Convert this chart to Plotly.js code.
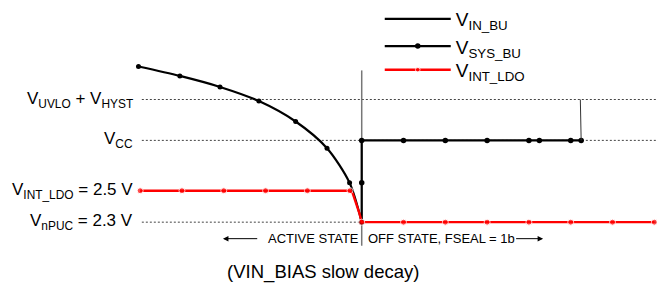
<!DOCTYPE html>
<html><head><meta charset="utf-8">
<script src="https://cdn.plot.ly/plotly-3.0.1.min.js"></script>
<style>html,body{margin:0;padding:0;background:#fff}</style>
</head><body><div id="chart" style="width:657px;height:286px"></div>
<script>
// ---- data (time in arbitrary units, 0 = switch to OFF state; voltage in V) ----
const levelLabels = ['V<sub>UVLO</sub> + V<sub>HYST</sub>', 'V<sub>CC</sub>', 'V<sub>INT_LDO</sub> = 2.5 V', 'V<sub>nPUC</sub> = 2.3 V'];
const levelValues = [3.08, 2.82, 2.5, 2.3];
const levelDotted = [true, true, false, true];

// V_IN_BU slow decay (active state)
const vinT = [-5.34, -4.35, -3.39, -2.46, -1.58, -0.83, -0.29, 0];
const vinV = [3.29, 3.23, 3.16, 3.07, 2.94, 2.77, 2.55, 2.3];

// V_SYS_BU
const vsysT = [0, 0, 0, 1, 2, 3, 4, 4.25, 5, 5.25];
const vsysV = [2.3, 2.55, 2.82, 2.82, 2.82, 2.82, 2.82, 2.82, 2.82, 2.82];
const vsysJumpT = [5.25, 5.23];
const vsysJumpV = [2.82, 3.08];

// V_INT_LDO
const ldoT = [-5.3, -4.3, -3.3, -2.3, -1.3, -0.28, -0.215, -0.16, -0.105, -0.057, 0, 1, 2, 3, 4, 5, 6, 7];
const ldoV = [2.5, 2.5, 2.5, 2.5, 2.5, 2.5, 2.483, 2.442, 2.4, 2.358, 2.3, 2.3, 2.3, 2.3, 2.3, 2.3, 2.3, 2.3];
const ldoBendIdx = [6, 7, 8, 9];

const switchT = 0;
const legendNames = ['V<sub>IN_BU</sub>', 'V<sub>SYS_BU</sub>', 'V<sub>INT_LDO</sub>'];
const stateLabels = ['ACTIVE STATE', 'OFF STATE, FSEAL = 1b'];
const chartTitle = '(VIN_BIAS slow decay)';

// ---- drawing ----
const FONT = 'Liberation Sans, Arial, Helvetica, sans-serif';
const traces = [
  {x: vinT, y: vinV, mode: 'lines', name: legendNames[0], legend: 'legend',
   line: {color: '#000', width: 2.2, shape: 'spline', smoothing: 0.8}},
  {x: vinT.slice(0, -1), y: vinV.slice(0, -1), mode: 'markers', showlegend: false,
   marker: {color: '#000', size: 5}},
  {x: vsysT, y: vsysV, mode: 'lines+markers', name: legendNames[1], legend: 'legend2',
   line: {color: '#000', width: 2.2}, marker: {color: '#000', size: 5.5}},
  {x: vsysJumpT, y: vsysJumpV, mode: 'lines', showlegend: false,
   line: {color: '#333', width: 1}},
  {x: ldoT, y: ldoV, mode: 'lines+markers', name: legendNames[2], legend: 'legend3',
   line: {color: '#ff0000', width: 2.4},
   marker: {color: '#ff0000', size: ldoT.map((t, i) => ldoBendIdx.includes(i) ? 0 : 6)}}
];

const shapes = [];
levelValues.forEach((v, i) => {
  if (levelDotted[i]) shapes.push({type: 'line', layer: 'below', xref: 'x', yref: 'y',
    x0: -5.26, x1: 8, y0: v, y1: v, line: {color: '#444', width: 1, dash: '2px,2px'}});
});
shapes.push({type: 'line', layer: 'below', xref: 'x', yref: 'y', x0: switchT, x1: switchT,
  y0: 2.15, y1: 3.265, line: {color: '#777', width: 1.5}});

const annotations = levelValues.map((v, i) => ({
  x: -5.42, y: v, xref: 'x', yref: 'y', text: levelLabels[i], showarrow: false,
  xanchor: 'right', yanchor: 'middle', font: {family: FONT, size: 17, color: '#000'}
}));
const arrowY = 2.195;
// state labels, each with its arrow (arrow tip at x, label centred at ax)
annotations.push({x: -3.32, y: arrowY, ax: -1.16, ay: arrowY, xref: 'x', yref: 'y', axref: 'x', ayref: 'y',
  text: stateLabels[0], showarrow: true, arrowhead: 2, arrowsize: 1.1, arrowwidth: 1, arrowcolor: '#000',
  startstandoff: 9, font: {family: FONT, size: 13, color: '#000'}});
annotations.push({x: 4.34, y: arrowY, ax: 1.9, ay: arrowY, xref: 'x', yref: 'y', axref: 'x', ayref: 'y',
  text: stateLabels[1], showarrow: true, arrowhead: 2, arrowsize: 1.1, arrowwidth: 1, arrowcolor: '#000',
  startstandoff: 0, font: {family: FONT, size: 13, color: '#000'}});

const legendBase = {x: 0.578, xanchor: 'left', yanchor: 'middle', bgcolor: 'rgba(0,0,0,0)',
  font: {family: FONT, size: 19, color: '#000'}, itemwidth: 66};
const layout = {
  width: 657, height: 286,
  margin: {l: 0, r: 0, t: 0, b: 0, pad: 0},
  paper_bgcolor: '#fff', plot_bgcolor: '#fff',
  font: {family: FONT, color: '#000'},
  title: {text: chartTitle, font: {family: FONT, size: 18.5, color: '#000'},
          x: 0.492, xanchor: 'center', y: 0.05, yanchor: 'middle'},
  xaxis: {range: [-8.653, 7.064], visible: false, fixedrange: true},
  yaxis: {range: [1.894, 3.681], visible: false, fixedrange: true},
  showlegend: true,
  legend: Object.assign({}, legendBase, {y: 1 - 14 / 286}),
  legend2: Object.assign({}, legendBase, {y: 1 - 42 / 286}),
  legend3: Object.assign({}, legendBase, {y: 1 - 66 / 286}),
  shapes: shapes,
  annotations: annotations
};
Plotly.newPlot('chart', traces, layout, {displayModeBar: false, staticPlot: true});
</script></body></html>
